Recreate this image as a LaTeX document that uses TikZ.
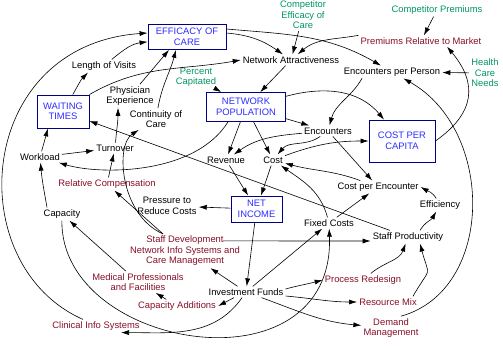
\documentclass[tikz,border=0pt]{standalone}
\usepackage{fontspec}
\setmainfont{Liberation Sans}
\usetikzlibrary{arrows.meta}
\definecolor{boxblue}{RGB}{45,45,255}
\definecolor{boxline}{RGB}{0,0,130}
\definecolor{exogreen}{RGB}{0,150,100}
\definecolor{leverred}{RGB}{135,15,40}

\begin{document}
\begin{tikzpicture}[x=1pt,y=1pt,font=\fontsize{9.4}{10.5}\selectfont,
    var/.style={align=center,inner sep=2pt},
    box/.style={draw=boxline,line width=0.8pt,fill=white,text=boxblue,align=center,inner sep=0pt},
    exo/.style={var,text=exogreen},
    lever/.style={var,text=leverred},
    link/.style={-{Latex[length=8pt,width=5pt]},line width=0.6pt}]
    \useasboundingbox (0,0) rectangle (503,-358);
    % levels
    \node[box,minimum width=78pt,minimum height=25pt] (eff) at (187,-37) {EFFICACY OF\\CARE};
    \node[box,minimum width=52pt,minimum height=33pt] (wait) at (63,-111.5) {WAITING\\TIMES};
    \node[box,minimum width=79pt,minimum height=29pt] (pop) at (246,-107) {NETWORK\\POPULATION};
    \node[box,minimum width=66pt,minimum height=42pt] (cpc) at (402,-141) {COST PER\\CAPITA};
    \node[box,minimum width=51pt,minimum height=26pt] (inc) at (256.5,-209) {NET\\INCOME};
    % exogenous
    \node[exo] (compeff) at (303,-15) {Competitor\\Efficacy of\\Care};
    \node[exo] (comprem) at (437,-10) {Competitor Premiums};
    \node[exo] (needs) at (485,-73) {Health\\Care\\Needs};
    \node[exo] (pcap) at (196,-77) {Percent\\Capitated};
    % auxiliaries
    \node[var] (attr) at (291,-60) {Network Attractiveness};
    \node[var] (epp) at (392,-72) {Encounters per Person};
    \node[var] (visits) at (104,-66) {Length of Visits};
    \node[var] (phys) at (130,-96) {Physician\\Experience};
    \node[var] (cont) at (156,-119) {Continuity of\\Care};
    \node[var] (enc) at (328,-131) {Encounters};
    \node[var] (turn) at (115,-148) {Turnover};
    \node[var] (work) at (40,-157) {Workload};
    \node[var] (rev) at (226,-160) {Revenue};
    \node[var] (cost) at (273,-160) {Cost};
    \node[var] (cpe) at (378,-187) {Cost per Encounter};
    \node[var] (press) at (167,-206) {Pressure to\\Reduce Costs};
    \node[var] (effic) at (440,-205) {Efficiency};
    \node[var] (cap) at (62,-214) {Capacity};
    \node[var] (fixed) at (329,-223) {Fixed Costs};
    \node[var] (prod) at (408,-237) {Staff Productivity};
    \node[var] (inv) at (246,-292) {Investment Funds};
    % policy levers
    \node[lever] (prem) at (421,-41) {Premiums Relative to Market};
    \node[lever] (relcomp) at (107,-184) {Relative Compensation};
    \node[lever] (staff) at (185,-251) {Staff Development\\Network Info Systems and\\Care Management};
    \node[lever] (med) at (138,-282) {Medical Professionals\\and Facilities};
    \node[lever] (capadd) at (177,-306) {Capacity Additions};
    \node[lever] (proc) at (363,-280) {Process Redesign};
    \node[lever] (mix) at (388,-302) {Resource Mix};
    \node[lever] (demand) at (391,-328) {Demand\\Management};
    \node[lever] (clin) at (96,-326) {Clinical Info Systems};
    % links
    \draw[link] (wait) to[out=60,in=225] ([xshift=-16pt]visits.south);
    \draw[link] (visits) to[out=40,in=187] (eff);
    \draw[link] ([xshift=-13pt]clin.north) .. controls (-40,-265) and (-25,-45) .. ([yshift=4pt]eff.west);
    \draw[link] ([yshift=4pt]eff.east) to[out=-5,in=145] (attr);
    \draw[link] ([yshift=8pt]eff.east) to[out=-5,in=150] (epp);
    \draw[link] (prem.north west) to[out=190,in=40] (attr);
    \draw[link] (compeff) -- (attr);
    \draw[link] (comprem) -- (prem);
    \draw[link] (needs) -- (epp);
    \draw[link] (cpc.east) to[out=35,in=-50,looseness=1.3] ([xshift=26pt]prem.south);
    \draw[link] ([xshift=10pt]demand.north) .. controls (495,-290) and (495,-130) .. (epp);
    \draw[link] ([xshift=-30pt]epp.south) to[out=-120,in=75] (enc);
    \draw[link] (attr) -- (pop);
    \draw[link] (pcap) -- (pop);
    \draw[link] (pop) -- (enc);
    \draw[link] (pop.15) to[out=15,in=130] (cpc);
    \draw[link] (pop) -- (rev);
    \draw[link] (pop) -- (cost);
    \draw[link] (enc) to[out=185,in=35] (rev);
    \draw[link] (enc) to[out=215,in=50] (cost);
    \draw[link] (cost) to[out=20,in=180] (cpc);
    \draw[link] (enc) -- (cpe);
    \draw[link] (cpe) to[out=160,in=-15] (cost);
    \draw[link] (fixed) to[out=105,in=-35] (cost);
    \draw[link] (fixed) -- (cpe);
    \draw[link] (effic) to[out=120,in=-30] (cpe.east);
    \draw[link] ([xshift=12pt]prod.north) to[out=60,in=-120] (effic);
    \draw[link] (proc) to[out=40,in=-110] (prod);
    \draw[link] ([xshift=-6pt]mix.north east) to[out=60,in=-75,looseness=1.8] ([xshift=12pt]prod.south);
    \draw[link] ([yshift=3pt]inv.east) to[out=15,in=195] (proc.west);
    \draw[link] ([yshift=-4pt]inv.east) to[out=-5,in=180] (mix.west);
    \draw[link] (inv) to[out=-20,in=175] (demand);
    \draw[link] (inv) -- (fixed);
    \draw[link] (inv) -- (staff);
    \draw[link] ([xshift=-12pt]inv.south) -- (capadd.east);
    \draw[link] (inv) to[out=235,in=0] ([xshift=25pt]clin.south);
    \draw[link] (cap) .. controls (60,-350) and (335,-395) .. (fixed);
    \draw[link] (capadd) -- (med);
    \draw[link] (med) -- (cap);
    \draw[link] (inc) -- (inv);
    \draw[link] (inc) -- (press);
    \draw[link] (rev) -- (inc);
    \draw[link] (cost) -- (inc);
    \draw[link] ([xshift=-19pt,yshift=-7pt]staff.north east) -- ([yshift=-4pt]prod.west);
    \draw[link] ([xshift=-22pt]staff.north) -- (relcomp);
    \draw[link] ([xshift=-22pt]staff.north) .. controls (120,-215) and (115,-145) .. (cont);
    \draw[link] (relcomp) -- (turn);
    \draw[link] (work) -- (turn);
    \draw[link] (work) -- ([xshift=-15pt]wait.south);
    \draw[link] ([xshift=-15pt]cap.north) to[out=100,in=-85] (work);
    \draw[link] (turn) to[out=85,in=-90] ([xshift=-12pt]phys.south);
    \draw[link] ([xshift=-18pt]pop.south) .. controls (195,-175) and (100,-175) .. (work);
    \draw[link] (prod) -- (wait);
    \draw[link] (wait.north east) to[out=30,in=190] (attr.west);
    \draw[link] (phys) -- ([xshift=-18pt]eff.south);
    \draw[link] (cont) to[out=80,in=-105] ([xshift=-11pt]eff.south);
\end{tikzpicture}
\end{document}
